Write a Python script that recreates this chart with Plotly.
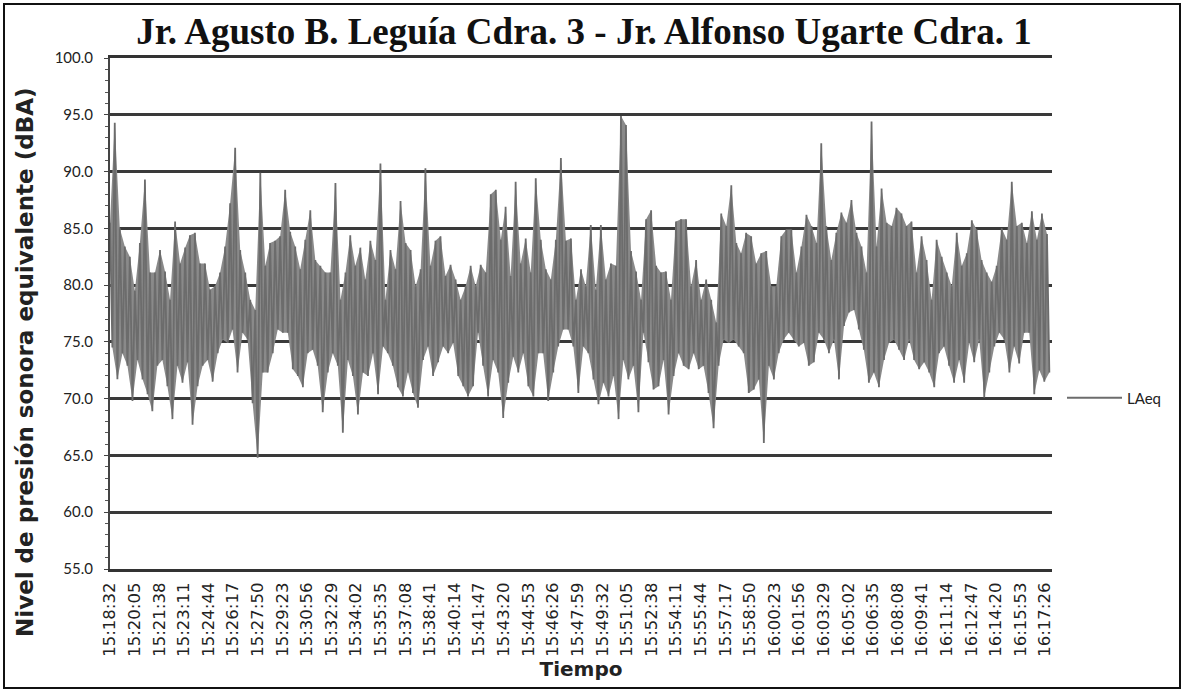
import numpy as np
import pandas as pd
import plotly.graph_objects as go

title_text = "Jr. Agusto B. Leguía Cdra. 3 - Jr. Alfonso Ugarte Cdra. 1"
series_name = "LAeq"
y_title = "Nivel de presión sonora equivalente (dBA)"
x_title = "Tiempo"
day = "2020-01-01 "
start_time = "15:18:32"
end_time = "16:17:52"

tick_labels = [
    "15:18:32", "15:20:05", "15:21:38", "15:23:11", "15:24:44", "15:26:17", "15:27:50",
    "15:29:23", "15:30:56", "15:32:29", "15:34:02", "15:35:35", "15:37:08", "15:38:41",
    "15:40:14", "15:41:47", "15:43:20", "15:44:53", "15:46:26", "15:47:59", "15:49:32",
    "15:51:05", "15:52:38", "15:54:11", "15:55:44", "15:57:17", "15:58:50", "16:00:23",
    "16:01:56", "16:03:29", "16:05:02", "16:06:35", "16:08:08", "16:09:41", "16:11:14",
    "16:12:47", "16:14:20", "16:15:53", "16:17:26",
]

# local maxima of LAeq (dBA), read left to right
laeq_upper = [
    85.5, 94.3, 85.0, 83.4, 82.5, 79.5, 83.7, 89.3, 81.1, 81.1, 83.1, 81.2, 78.7, 85.6, 81.9, 83.3,
    84.4, 84.6, 81.9, 81.9, 79.6, 79.9,
    81.1, 83.4, 87.2, 92.1, 83.1, 81.1, 78.7, 77.8, 89.9, 81.7, 83.7, 83.9, 84.3, 88.4, 84.7, 83.4,
    81.4, 84.0, 86.6, 82.2, 81.7, 81.1, 81.1,
    89.0, 78.7, 81.1, 84.4, 81.7, 83.3, 80.5, 83.9, 82.2, 90.7, 78.7, 83.1, 81.4, 87.4, 83.7, 83.1,
    79.9, 81.4, 90.3, 81.7, 83.9, 84.3, 80.8,
    81.8, 80.5, 78.7, 79.9, 81.7, 79.9, 81.8, 81.1, 88.0, 88.4, 84.0, 86.9, 80.8, 89.1, 81.9, 84.1,
    81.1, 89.4, 84.0, 81.4, 80.5, 84.0, 91.2,
    83.9, 84.1, 78.7, 81.4, 79.9, 85.3, 79.6, 85.3, 80.5, 81.9, 81.7, 94.9, 94.1, 83.0, 81.2, 78.7,
    85.8, 86.6, 81.7, 81.1, 81.2, 78.7, 85.6,
    85.8, 85.8, 79.9, 82.2, 78.7, 80.5, 78.7, 76.7, 86.3, 85.2, 88.8, 83.7, 82.8, 84.6, 84.3, 81.9,
    82.8, 83.0, 79.9, 79.9, 84.3, 84.9, 84.9,
    81.1, 83.4, 86.2, 85.2, 83.7, 92.5, 85.2, 82.2, 84.6, 86.4, 85.5, 87.5, 84.6, 83.4, 81.1, 94.4,
    83.4, 88.5, 85.5, 85.2, 86.8, 86.3, 85.2,
    85.6, 81.1, 84.3, 82.2, 78.7, 84.0, 82.5, 81.1, 79.9, 84.6, 81.7, 82.8, 85.7, 84.9, 82.2, 81.1,
    80.3, 81.7, 85.0, 84.0, 89.1, 85.2, 85.5, 83.7,
    86.5, 84.0, 86.3, 84.5,
]

# local minima of LAeq (dBA), read left to right
laeq_lower = [
    74.5, 71.7, 74.0, 72.9, 69.8, 73.4, 71.7, 70.4, 68.9, 72.9, 73.4, 71.1, 68.2, 72.9, 71.4, 73.2,
    67.7, 71.1, 72.9, 73.4, 71.5, 74.0,
    75.2, 74.9, 76.1, 72.3, 75.8, 75.2, 69.6, 64.8, 72.3, 72.3, 74.0, 76.1, 75.8, 75.8, 72.6, 72.0,
    71.0, 74.0, 74.3, 72.9, 68.8, 72.3, 74.0,
    72.9, 67.0, 73.4, 72.0, 68.6, 72.3, 72.0, 74.0, 70.4, 74.6, 74.0, 72.9, 71.0, 70.2, 72.3, 70.5,
    69.2, 73.4, 74.6, 72.0, 73.2, 74.6, 74.0,
    74.9, 72.0, 71.1, 70.2, 71.1, 75.8, 72.9, 70.2, 73.4, 72.3, 68.3, 71.4, 73.7, 72.3, 74.0, 71.1,
    70.2, 74.0, 74.0, 69.8, 72.3, 74.6, 76.1,
    76.1, 74.6, 70.5, 74.6, 74.0, 71.7, 69.5, 71.4, 70.2, 72.0, 68.2, 73.4, 71.7, 72.9, 68.8, 75.8,
    73.2, 70.8, 71.1, 73.4, 68.6, 72.0, 74.0,
    72.9, 72.6, 74.0, 72.6, 72.9, 70.5, 67.4, 72.9, 75.2, 74.9, 75.2, 74.6, 74.0, 70.5, 70.8, 71.7,
    66.1, 72.9, 71.7, 74.0, 75.2, 75.8, 75.2,
    74.6, 74.9, 72.9, 73.2, 75.8, 75.2, 74.0, 75.2, 71.7, 76.4, 77.6, 77.8, 76.1, 74.3, 71.4, 72.3,
    71.0, 73.4, 74.9, 75.2, 74.3, 73.4, 75.2,
    73.4, 72.6, 73.2, 72.3, 71.0, 74.0, 74.6, 72.9, 71.4, 73.4, 71.4, 74.9, 73.2, 75.2, 70.1, 72.3,
    74.6, 75.8, 75.2, 72.3, 74.6, 73.1, 75.8, 75.8,
    70.4, 72.5, 71.5, 72.3,
]

y_ticks = [55, 60, 65, 70, 75, 80, 85, 90, 95, 100]

# build series: alternate maxima and minima along the sampling time
values = np.column_stack([laeq_upper, laeq_lower]).ravel()
t0 = pd.Timestamp(day + start_time)
t1 = pd.Timestamp(day + end_time)
times = t0 + (t1 - t0) * (np.arange(len(values)) / len(values))
t_up = times[0::2]
t_lo = times[1::2]
tick_vals = [pd.Timestamp(day + s) for s in tick_labels]

band_color = "#8a8a8a"
fig = go.Figure()
# dense 1-s record renders as a solid band between its minima and maxima
fig.add_trace(go.Scatter(x=t_lo, y=laeq_lower, mode="lines", line=dict(width=0, color=band_color),
                         showlegend=False, hoverinfo="skip"))
fig.add_trace(go.Scatter(x=t_up, y=laeq_upper, mode="lines", line=dict(width=0, color=band_color),
                         fill="tonexty", fillcolor=band_color, showlegend=False, hoverinfo="skip"))
fig.add_trace(go.Scatter(
    x=times, y=values, mode="lines", name=series_name,
    line=dict(color="#6c6c6c", width=1.8),
))

W, H = 1184, 691
ml, mr, mt, mb = 110, 132, 58, 122
pw, ph = W - ml - mr, H - mt - mb

def px(xp):
    return (xp - ml) / pw

def py(yp):
    return (H - mb - yp) / ph

fig.update_layout(
    width=W, height=H,
    margin=dict(l=ml, r=mr, t=mt, b=mb, pad=0),
    paper_bgcolor="white", plot_bgcolor="white",
    title=dict(text=title_text, x=px(584), xanchor="center", y=1 - 31 / H, yanchor="middle",
               xref="paper", yref="container",
               font=dict(family="Liberation Serif", size=37, color="#111111", weight="bold")),
    showlegend=True,
    legend=dict(x=px(1062), xanchor="left", y=py(398), yanchor="middle",
                font=dict(family="Lato", size=15, color="#222222"),
                bgcolor="rgba(0,0,0,0)", itemwidth=55),
    xaxis=dict(
        type="date", range=[t0, t1], tickmode="array", tickvals=tick_vals, ticktext=tick_labels,
        tickangle=-90, tickfont=dict(family="DejaVu Sans", size=16.5, color="#222222"),
        showgrid=False, showline=True, mirror=True, linecolor="#333333", linewidth=3, ticks="",
        ticklabelstandoff=4,
        title=dict(text=x_title, standoff=6,
                   font=dict(family="DejaVu Sans", size=20, color="#222222", weight="bold")),
    ),
    yaxis=dict(
        range=[55, 100], tickmode="array", tickvals=y_ticks, tickformat=".1f",
        tickfont=dict(family="Lato", size=15, color="#222222"),
        showgrid=True, gridcolor="#3a3a3a", gridwidth=3,
        showline=True, linecolor="#444444", linewidth=2, ticks="outside", ticklen=4,
        tickcolor="#444444", ticklabelstandoff=8,
        minor=dict(dtick=1, ticks="outside", ticklen=3, tickcolor="#555555", showgrid=False),
        zeroline=False,
    ),
    annotations=[dict(text=y_title, textangle=-90, xref="paper", yref="paper",
                      x=px(25), y=py(362), xanchor="center", yanchor="middle", showarrow=False,
                      font=dict(family="DejaVu Sans", size=23, color="#222222", weight="bold"))],
    shapes=[dict(type="rect", xref="paper", yref="paper",
                 x0=px(4), x1=px(1180), y0=py(688), y1=py(4),
                 line=dict(color="#111111", width=2), fillcolor="rgba(0,0,0,0)", layer="above")],
)

fig.write_html("out.html", config={"displayModeBar": False},
               post_script="document.body.style.margin='0';document.body.style.overflow='hidden';")
